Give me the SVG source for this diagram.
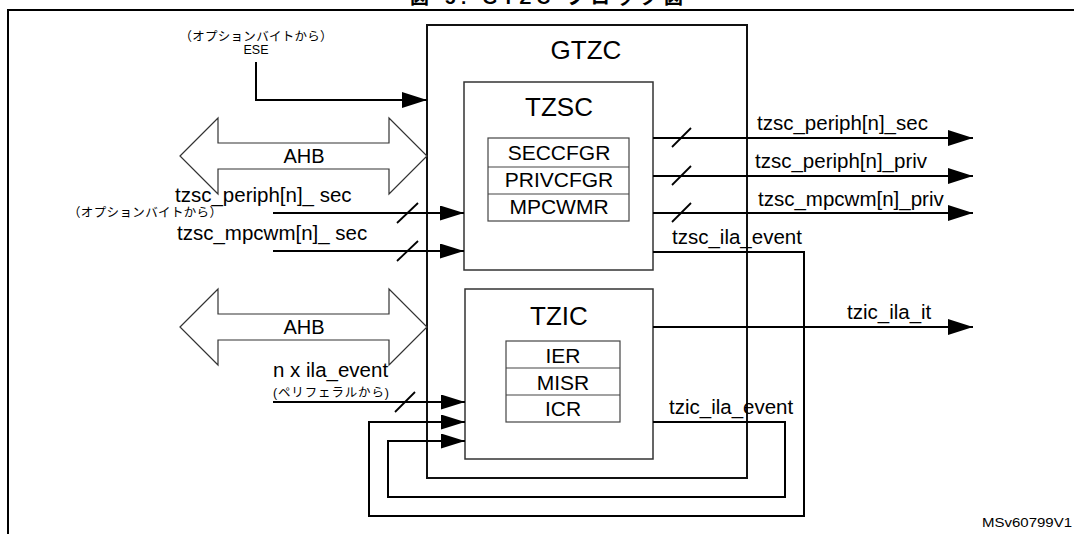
<svg xmlns="http://www.w3.org/2000/svg" width="1074" height="534" viewBox="0 0 1074 534">
  <style>
    text { font-family: "Liberation Sans", Arial, "Noto Sans CJK JP", sans-serif; fill: #000; }
    .title { font-weight: bold; font-size: 19px; }
    .big { font-size: 26px; text-anchor: middle; }
    .reg { font-size: 21px; text-anchor: middle; }
    .sig { font-size: 20.5px; }
    .small { font-size: 12.5px; }
    .ahb { font-size: 20px; text-anchor: middle; }
    .frame { fill: none; stroke: #000; stroke-width: 2; }
    .box { fill: none; stroke: #333; stroke-width: 1.5; }
    .outer { fill: none; stroke: #111; stroke-width: 2; }
    .regbox { fill: none; stroke: #444; stroke-width: 1.2; }
    .bus { fill: #fff; stroke: #333; stroke-width: 1.2; }
    .w { fill: none; stroke: #000; stroke-width: 2; }
    .arr { marker-end: url(#ah); }
    .arrs { marker-end: url(#ahs); }
    .sl { stroke: #000; stroke-width: 1.8; }
  </style>
  <defs>
    <marker id="ah" markerWidth="25" markerHeight="16" refX="25" refY="8" orient="auto" markerUnits="userSpaceOnUse">
      <path d="M0,0 L25,8 L0,16 z" fill="#000"/>
    </marker>
    <marker id="ahs" markerWidth="24" markerHeight="15" refX="24" refY="7.5" orient="auto" markerUnits="userSpaceOnUse">
      <path d="M0,0 L24,7.5 L0,15 z" fill="#000"/>
    </marker>
  </defs>

  <g id="frame">
    <path class="frame" d="M8,534 V10 H1074"/>
    <text class="title" x="410" y="4" textLength="273" lengthAdjust="spacing">図 5. GTZC ブロック図</text>
  </g>

  <g id="gtzc">
    <rect class="outer" x="427" y="25" width="320" height="453"/>
    <text class="big" x="586" y="59">GTZC</text>
  </g>

  <g id="tzsc">
    <rect class="box" x="464" y="82" width="189" height="188"/>
    <text class="big" x="559" y="116">TZSC</text>
    <g id="tzsc-regs">
      <rect class="regbox" x="488" y="138" width="141" height="83"/>
      <path class="regbox" d="M488,167 H629 M488,194 H629"/>
      <text class="reg" x="559" y="160">SECCFGR</text>
      <text class="reg" x="559" y="187">PRIVCFGR</text>
      <text class="reg" x="559" y="214">MPCWMR</text>
    </g>
  </g>

  <g id="tzic">
    <rect class="box" x="465" y="289" width="188" height="170"/>
    <text class="big" x="559" y="325">TZIC</text>
    <g id="tzic-regs">
      <rect class="regbox" x="506" y="341" width="114" height="81"/>
      <path class="regbox" d="M506,368 H620 M506,395 H620"/>
      <text class="reg" x="563" y="363">IER</text>
      <text class="reg" x="563" y="390">MISR</text>
      <text class="reg" x="563" y="416">ICR</text>
    </g>
  </g>

  <g id="ahb1">
    <polygon class="bus" points="180,156 218,118 218,143 389,143 389,118 427,156 389,194 389,169 218,169 218,194"/>
    <text class="ahb" x="304" y="163">AHB</text>
  </g>
  <g id="ahb2">
    <polygon class="bus" points="180,327 218,289 218,314 389,314 389,289 427,327 389,365 389,340 218,340 218,365"/>
    <text class="ahb" x="304" y="334">AHB</text>
  </g>

  <g id="connectors">
    <path class="w arr" d="M256,62 V100 H427"/>
    <path class="w arrs" d="M273,213 H464"/>
    <path class="w arrs" d="M273,251 H464"/>
    <line class="sl" x1="397" y1="223" x2="418" y2="203"/>
    <line class="sl" x1="397" y1="261" x2="418" y2="241"/>
    <path class="w arr" d="M653,138 H973"/>
    <path class="w arr" d="M653,176 H973"/>
    <path class="w arr" d="M653,213 H973"/>
    <line class="sl" x1="672" y1="147" x2="691" y2="128"/>
    <line class="sl" x1="672" y1="185" x2="691" y2="166"/>
    <line class="sl" x1="672" y1="222" x2="691" y2="203"/>
    <path class="w arr" d="M653,327 H973"/>
    <path class="w arrs" d="M273,402 H465"/>
    <line class="sl" x1="395" y1="412" x2="415" y2="392"/>
    <path class="w arrs" d="M653,252 H804 V516 H369 V422 H465"/>
    <path class="w arrs" d="M653,422 H785 V497 H388 V441 H465"/>
  </g>

  <g id="labels">
    <text class="small" x="256" y="41" text-anchor="middle" textLength="153" lengthAdjust="spacing">（オプションバイトから）</text>
    <text class="small" x="256" y="54" text-anchor="middle">ESE</text>
    <text class="sig" x="175" y="202">tzsc_periph[n]_ sec</text>
    <text class="small" x="68" y="217" textLength="154" lengthAdjust="spacing">（オプションバイトから）</text>
    <text class="sig" x="177" y="240">tzsc_mpcwm[n]_ sec</text>
    <text class="sig" x="273" y="377">n x ila_event</text>
    <text class="small" x="273" y="397" textLength="116" lengthAdjust="spacing">(ペリフェラルから)</text>
    <text class="sig" x="757" y="130">tzsc_periph[n]_sec</text>
    <text class="sig" x="755" y="168">tzsc_periph[n]_priv</text>
    <text class="sig" x="758" y="206">tzsc_mpcwm[n]_priv</text>
    <text class="sig" x="672" y="244">tzsc_ila_event</text>
    <text class="sig" x="847" y="319">tzic_ila_it</text>
    <text class="sig" x="669" y="414">tzic_ila_event</text>
    <text x="982" y="527" font-size="13" textLength="90" lengthAdjust="spacingAndGlyphs">MSv60799V1</text>
  </g>
</svg>
